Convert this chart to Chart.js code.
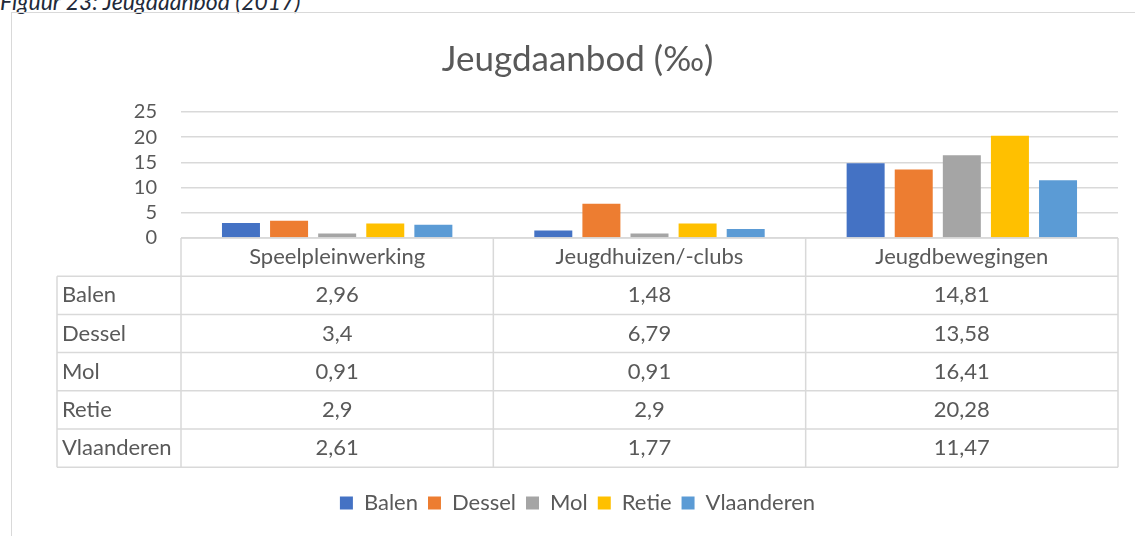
<!DOCTYPE html>
<html>
<head>
<meta charset="utf-8">
<title>Jeugdaanbod</title>
<script src="https://cdn.jsdelivr.net/npm/chart.js@4/dist/chart.umd.min.js"></script>
<style>
  html, body { margin: 0; padding: 0; background: #fff; overflow: hidden; }
  .page { position: relative; width: 1135px; height: 536px; }
  .caption {
    position: absolute; left: 0; top: -13px; line-height: 23px;
    font: italic 23px Lato, sans-serif; color: #222a3a; white-space: nowrap;
  }
  .frame {
    position: absolute; left: 11px; top: 12px; width: 1200px; height: 600px;
    border: 1px solid #d9d9d9; box-sizing: border-box;
  }
  #chart { position: absolute; left: 0; top: 0; }
</style>
</head>
<body>
<div class="page">
  <div class="caption">Figuur 23: Jeugdaanbod (2017)</div>
  <div class="frame"></div>
  <canvas id="chart" width="1135" height="536"></canvas>
</div>
<script>
// ─── data ───
const categories = ["Speelpleinwerking", "Jeugdhuizen/-clubs", "Jeugdbewegingen"];
const seriesNames = ["Balen", "Dessel", "Mol", "Retie", "Vlaanderen"];
const balen = [2.96, 1.48, 14.81];
const dessel = [3.4, 6.79, 13.58];
const mol = [0.91, 0.91, 16.41];
const retie = [2.9, 2.9, 20.28];
const vlaanderen = [2.61, 1.77, 11.47];
const yTicks = [0, 5, 10, 15, 20, 25];

const seriesValues = [balen, dessel, mol, retie, vlaanderen];
const seriesColors = ["#4472C4", "#ED7D31", "#A5A5A5", "#FFC000", "#5B9BD5"];

const textColor = "#595959";
const lineColor = "#d9d9d9";
const fontFamily = "Lato, 'Open Sans', sans-serif";

Chart.defaults.color = textColor;
Chart.defaults.font.family = fontFamily;

function fmt(v) {
  return String(v).replace(".", ",");
}

// data table drawn under the plot, lined up with the x scale
const dataTablePlugin = {
  id: "dataTablePlugin",
  afterDraw(chart) {
    const { ctx, chartArea } = chart;
    const left = chartArea.left;
    const right = chartArea.right;
    const top = chartArea.bottom;
    const labelLeft = 57;
    const rowH = 38.2;
    const nRows = seriesNames.length + 1;
    const bottom = top + rowH * nRows;
    const colW = (right - left) / categories.length;

    ctx.save();
    ctx.strokeStyle = lineColor;
    ctx.lineWidth = 1.5;
    ctx.beginPath();
    // horizontal lines
    ctx.moveTo(left, top); ctx.lineTo(right, top);
    for (let r = 1; r <= nRows; r++) {
      const y = top + r * rowH;
      ctx.moveTo(labelLeft, y); ctx.lineTo(right, y);
    }
    // vertical lines
    ctx.moveTo(labelLeft, top + rowH); ctx.lineTo(labelLeft, bottom);
    for (let c = 0; c <= categories.length; c++) {
      const x = left + c * colW;
      ctx.moveTo(x, top); ctx.lineTo(x, bottom);
    }
    ctx.stroke();

    ctx.fillStyle = textColor;
    ctx.font = "22px " + fontFamily;
    ctx.textBaseline = "middle";
    ctx.textAlign = "center";
    categories.forEach((cat, c) => {
      ctx.fillText(cat, left + (c + 0.5) * colW, top + rowH / 2);
    });
    seriesNames.forEach((name, r) => {
      const y = top + (r + 1.5) * rowH;
      ctx.textAlign = "left";
      ctx.fillText(name, labelLeft + 5, y);
      ctx.textAlign = "center";
      seriesValues[r].forEach((v, c) => {
        ctx.fillText(fmt(v), left + (c + 0.5) * colW, y);
      });
    });
    ctx.restore();
  }
};

new Chart(document.getElementById("chart"), {
  type: "bar",
  data: {
    labels: categories,
    datasets: seriesNames.map((name, i) => ({
      label: name,
      data: seriesValues[i],
      backgroundColor: seriesColors[i],
      borderWidth: 0,
      categoryPercentage: 0.77,
      barPercentage: 0.79
    }))
  },
  plugins: [dataTablePlugin],
  options: {
    responsive: false,
    animation: false,
    layout: { padding: { top: 10, left: 37, right: 17, bottom: 12 } },
    plugins: {
      tooltip: { enabled: false },
      title: {
        display: true,
        text: "Jeugdaanbod (‰)",
        color: textColor,
        font: { size: 35, weight: "normal" },
        padding: { top: 29, bottom: 31 }
      },
      legend: {
        position: "bottom",
        labels: {
          color: textColor,
          font: { size: 22 },
          boxWidth: 13,
          boxHeight: 13,
          padding: 10
        }
      }
    },
    scales: {
      x: {
        grid: { display: false },
        border: { display: false },
        ticks: { display: false },
        afterFit: (s) => { s.height = 244; }
      },
      y: {
        min: yTicks[0],
        max: yTicks[yTicks.length - 1],
        afterFit: (s) => { s.width = 144; },
        afterBuildTicks: (s) => { s.ticks = yTicks.map((v) => ({ value: v })); },
        grid: { color: lineColor, lineWidth: 1.5, drawTicks: false },
        border: { display: false },
        ticks: { color: textColor, font: { size: 20 }, padding: 24, autoSkip: false }
      }
    }
  }
});
</script>
</body>
</html>
